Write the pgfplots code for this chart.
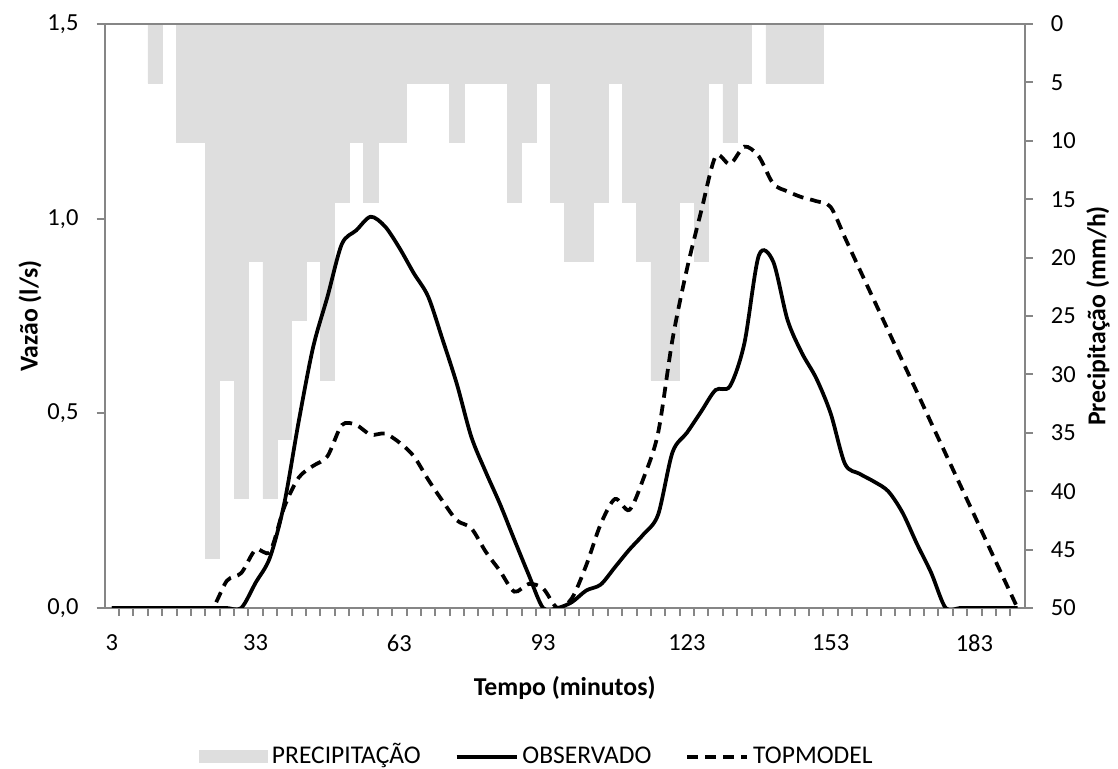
\documentclass[border=0pt]{standalone}
\usepackage{fontspec}
\setmainfont{Carlito}
\usepackage{pgfplots}
\usepackage{pgfplotstable}
\pgfplotsset{compat=1.18}
\definecolor{precip}{HTML}{DEDEDE}
\definecolor{axgray}{HTML}{868686}

\pgfplotstableread{
t p
12 5.08
18 10.16
21 10.16
24 45.72
27 30.48
30 40.64
33 20.32
36 40.64
39 35.56
42 25.40
45 20.32
48 30.48
51 15.24
54 10.16
57 15.24
60 10.16
63 10.16
66 5.08
69 5.08
72 5.08
75 10.16
78 5.08
81 5.08
84 5.08
87 15.24
90 10.16
93 5.08
96 15.24
99 20.32
102 20.32
105 15.24
108 5.08
111 15.24
114 20.32
117 30.48
120 30.48
123 15.24
126 20.32
129 5.08
132 10.16
135 5.08
141 5.08
144 5.08
147 5.08
150 5.08
}\precip

\pgfplotstableread{
t v
3 0
6 0
9 0
12 0
15 0
18 0
21 0
24 0
27 0
30 0
33 0.065
36 0.13
39 0.27
42 0.48
45 0.67
48 0.80
51 0.935
54 0.97
57 1.005
60 0.98
63 0.925
66 0.86
69 0.80
72 0.69
75 0.575
78 0.44
81 0.35
84 0.267
87 0.175
90 0.085
93 0
96 0
99 0.015
102 0.045
105 0.06
108 0.105
111 0.15
114 0.19
117 0.24
120 0.40
123 0.45
126 0.505
129 0.56
132 0.57
135 0.68
138 0.905
141 0.89
144 0.74
147 0.655
150 0.59
153 0.50
156 0.37
159 0.345
162 0.325
165 0.30
168 0.245
171 0.165
174 0.09
177 0
180 0
183 0
186 0
189 0
192 0
}\obs

\pgfplotstableread{
t v
3 0
6 0
9 0
12 0
15 0
18 0
21 0
24 0
27 0.07
30 0.09
33 0.15
36 0.145
39 0.26
42 0.335
45 0.365
48 0.39
51 0.47
54 0.47
57 0.445
60 0.448
63 0.425
66 0.39
69 0.33
72 0.275
75 0.225
78 0.205
81 0.145
84 0.095
87 0.042
90 0.062
93 0.05
96 0.0
99 0.025
102 0.11
105 0.215
108 0.28
111 0.252
114 0.335
117 0.45
120 0.69
123 0.87
126 1.02
129 1.16
132 1.14
135 1.185
138 1.16
141 1.09
144 1.07
147 1.055
150 1.045
153 1.03
156 0.951
159 0.871
162 0.792
165 0.713
168 0.634
171 0.555
174 0.475
177 0.396
180 0.317
183 0.238
186 0.158
189 0.079
192 0
}\topm

\begin{document}
\begin{tikzpicture}
\pgfplotsset{
  common/.style={
    scale only axis, width=368pt, height=233.6pt,
    xmin=1.5, xmax=193.5, at={(0,0)}, anchor=south west,
    axis line style={axgray, line width=0.8pt},
    tick align=outside, major tick length=3.2pt, minor tick length=3.2pt,
    every tick/.style={axgray, line width=0.8pt},
    tick label style={font=\fontsize{9.8}{12}\selectfont, black},
    every axis label/.append style={font=\bfseries\fontsize{10.3}{12}\selectfont},
  }
}
\begin{axis}[common,
  axis x line=none, axis y line*=right,
  y dir=reverse, ymin=0, ymax=50,
  ytick={0,5,...,50},
  yticklabels={0,5,10,15,20,25,30,35,40,45,50},
  yticklabel style={anchor=west, inner sep=0pt, xshift=7.1pt},
  ylabel={Precipitação (mm/h)},
  every axis y label/.style={at={(axis description cs:1.0797,0.5)}, rotate=90, anchor=center},
]
\addplot[ybar, bar width=3, fill=precip, draw=precip, line width=0.2pt] table[x=t,y=p]{\precip};
\end{axis}
\begin{axis}[common,
  ymin=0, ymax=1.5,
  ytick={0,0.5,1,1.5},
  yticklabels={{0,0},{0,5},{1,0},{1,5}},
  ytick pos=left, xtick pos=bottom,
  yticklabel style={anchor=east, inner sep=0pt, xshift=-7.1pt},
  xtick={3,33,63,93,123,153,183},
  xticklabels={3,33,63,93,123,153,183},
  xticklabel style={anchor=north, inner sep=0pt, yshift=-7.4pt},
  minor xtick={4.5,7.5,...,190.5},
  every major x tick/.append style={draw=none},
  xlabel={Tempo (minutos)},
  ylabel={Vazão (l/s)},
  every axis x label/.style={at={(axis description cs:0.5,-0.137)}, anchor=center},
  every axis y label/.style={at={(axis description cs:-0.0812,0.5)}, rotate=90, anchor=center},
  legend columns=3,
  legend style={draw=none, fill=none, at={(axis description cs:0.471,-0.255)}, anchor=center,
    font=\fontsize{10.2}{12}\selectfont,
    /tikz/every even column/.append style={column sep=12pt},
    nodes={inner sep=1.6pt, text height=7.3pt, text depth=2.2pt}},
]
\addlegendimage{legend image code/.code={\fill[precip] (0pt,-2.4pt) rectangle (27pt,2.4pt);}}
\addlegendentry{PRECIPITAÇÃO}
\addplot[black, line width=1.5pt, smooth, tension=0.5,
  legend image code/.code={\draw[black, line width=1.5pt] (0pt,0pt) -- (24pt,0pt);}] table[x=t,y=v]{\obs};
\addlegendentry{OBSERVADO}
\addplot[black, line width=1.5pt, smooth, tension=0.5, dash pattern=on 4.4pt off 2.8pt,
  legend image code/.code={\draw[black, line width=1.5pt, dash pattern=on 4.4pt off 2.8pt] (0pt,0pt) -- (24pt,0pt);}] table[x=t,y=v]{\topm};
\addlegendentry{TOPMODEL}
\end{axis}
\pgfresetboundingbox
\useasboundingbox (-41.88pt,-64.4pt) rectangle (405.32pt,243.2pt);
\end{tikzpicture}
\end{document}
